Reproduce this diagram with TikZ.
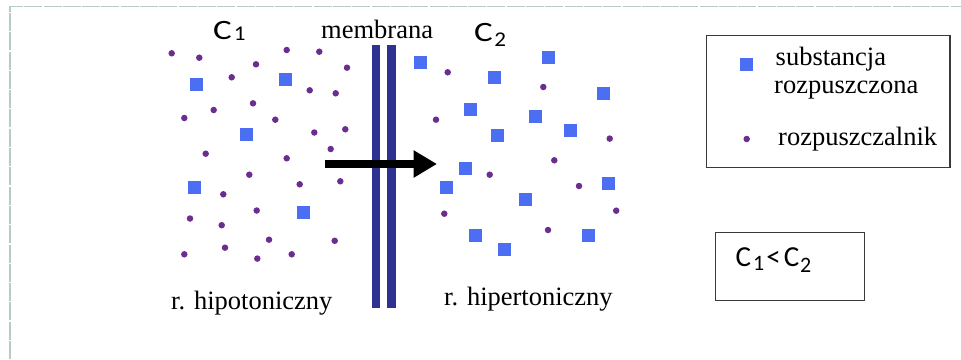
\documentclass[tikz,border=0pt]{standalone}
\usepackage{fontspec}
\setmainfont{Liberation Serif}
\newfontfamily\calib{Carlito}
\usetikzlibrary{arrows.meta}
\definecolor{solute}{HTML}{4C6EF2}
\definecolor{solvent}{HTML}{6B2D8F}
\definecolor{memb}{HTML}{2E3192}
\definecolor{framec}{HTML}{B7CACA}
\definecolor{boxc}{HTML}{3A3A3A}
\tikzset{
  lbl/.style={anchor=base west, inner sep=0pt, font=\fontsize{26.5}{30}\selectfont},
  clbl/.style={anchor=base west, inner sep=0pt, font=\calib\fontsize{28}{32}\selectfont},
  sq/.style={fill=solute, draw=none, minimum size=13pt, inner sep=0pt, rectangle},
  dt/.style={fill=solvent, draw=none, circle, minimum size=6.5pt, inner sep=0pt},
  bar/.style={fill=memb, draw=none, minimum width=8.3pt, minimum height=262.7pt, inner sep=0pt, rectangle},
  panel/.style={draw=boxc, line width=1.5pt, fill=none, inner sep=0pt, rectangle},
}
\begin{document}
\begin{tikzpicture}[x=1pt,y=-1pt]
\useasboundingbox (0,0) rectangle (961,359);
% dashed frame
\coordinate (fa) at (10,359);
\coordinate (fb) at (10,6.5);
\coordinate (fc) at (961,6.5);
\draw[framec, line width=1.6pt, dash pattern=on 18pt off 1.3pt] (fa) -- (fb) -- (fc);
% left solution
\foreach \p [count=\i] in {(171.7,53.3),(199.3,57.7),(286.7,50),(319.3,51.7),(256,64.3),(347,67.7),(231.7,77.3),(309.7,90.3),(335.7,93.3),(253,103.3),(213.7,110),(184.3,118),(275.3,119.7),(314.3,132.5),(345.3,129.3),(205.7,153.7),(330.7,149),(286.7,158.3),(249.3,174.7),(299.7,184.3),(340.3,181.3),(223.3,194.3),(256.7,210.5),(190,218.5),(221.7,225.2),(269,239.7),(334.7,240.8),(225,247.7),(184.3,254.3),(257.3,258.6),(291.7,254.3)}
  \node[dt] (ld\i) at \p {};
\foreach \p [count=\i] in {(196,84),(285.3,79.3),(246,134.3),(194.5,187.7),(303,212.2)}
  \node[sq] (ls\i) at \p {};
% right solution
\foreach \p [count=\i] in {(420,62.3),(548.3,57.7),(494.7,77.3),(603.3,93.3),(470.3,109.7),(535.3,116.3),(570.7,130),(497.7,135.3),(465.3,168.3),(446,187.7),(525.5,199),(608.2,183),(475.3,235),(588.7,235.7),(504.3,249.3)}
  \node[sq] (rs\i) at \p {};
\foreach \p [count=\i] in {(447.7,72.3),(543.3,87),(436,119.7),(609.7,138.6),(554.3,160.3),(489.7,174.7),(579,186),(616.2,210.7),(444.3,213.7),(548,230)}
  \node[dt] (rd\i) at \p {};
% membrane
\node[bar] (m1) at (375.85,176.35) {};
\node[bar] (m2) at (391.5,176.35) {};
% arrow
\coordinate (as) at (324.5,164);
\coordinate (ae) at (437,164);
\draw[line width=7.6pt, -{Triangle[length=23.5pt,width=26pt]}] (as) -- (ae);
% labels
\node[clbl] (c1) at (213,39.5) {\scalebox{1.25}[1]{C}\kern2pt\raisebox{-1pt}{\scalebox{1.1}[1]{\fontsize{21}{24}\selectfont 1}}};
\node[lbl] (mem) at (321,38.5) {membrana};
\node[clbl] (c2) at (474,41.5) {\scalebox{1.25}[1]{C}\kern1.5pt\raisebox{-5pt}{\scalebox{1.1}[1]{\fontsize{21}{24}\selectfont 2}}};
\node[lbl] (hipo) at (171,309) {r. hipotoniczny};
\node[lbl] (hiper) at (444,305) {r. hipertoniczny};
% legend
\node[panel, minimum width=243.3pt, minimum height=131.6pt] (leg) at (828.35,101.5) {};
\node[sq] (lgs) at (746.3,64.7) {};
\node[dt] (lgd) at (746.7,139) {};
\node[lbl] (t1) at (775.5,65) {substancja};
\node[lbl] (t2) at (774,93.3) {rozpuszczona};
\node[lbl] (t3) at (778,145.7) {rozpuszczalnik};
% comparison box
\node[panel, minimum width=148.6pt, minimum height=68.4pt] (cmp) at (790,266.5) {};
\node[anchor=base west, inner sep=0pt, font=\calib\fontsize{29}{32}\selectfont] (ineq) at (735.5,266.7)
  {C\kern2pt\raisebox{-3.5pt}{\fontsize{22}{26}\selectfont 1}\kern2pt<\kern3pt C\kern1pt\raisebox{-6pt}{\fontsize{22}{26}\selectfont 2}};
\end{tikzpicture}
\end{document}
